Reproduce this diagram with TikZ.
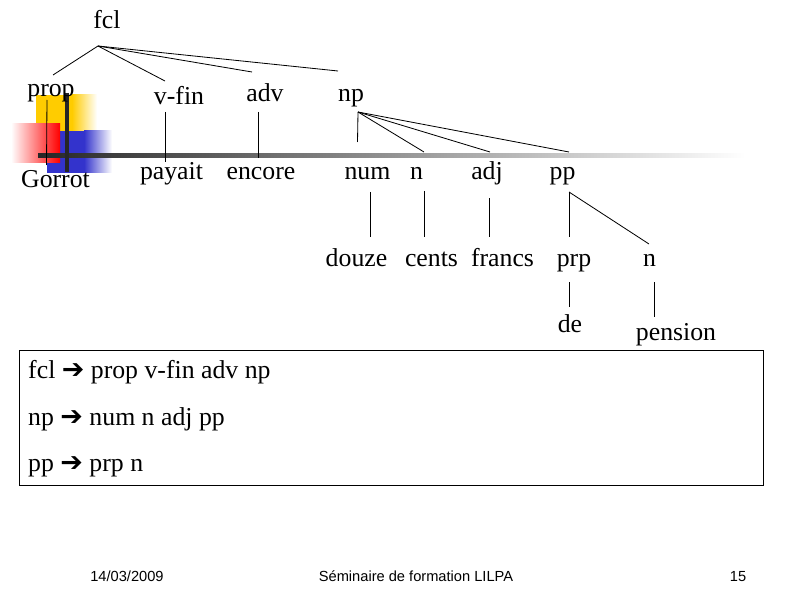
\documentclass[tikz,border=0pt]{standalone}
\usepackage{fontspec}
\setmainfont{Liberation Serif}
\newfontfamily\footfont{Liberation Sans}
\newfontfamily\arrowfont{DejaVu Sans}
\usetikzlibrary{calc, positioning}
\definecolor{slideyellow}{RGB}{255,204,0}
\definecolor{slidered}{RGB}{255,0,0}
\definecolor{slideblue}{RGB}{51,51,204}

\tikzset{
  cat/.style={anchor=base, inner sep=2pt, font=\fontsize{22}{26}\selectfont},
  rule/.style={anchor=base west, inner sep=0pt, font=\fontsize{22}{26}\selectfont},
  branch/.style={line width=0.7pt},
  foot/.style={anchor=base, inner sep=0pt, font=\footfont\fontsize{12.5}{14}\selectfont},
}
\newcommand{\rulearrow}{{\arrowfont\fontsize{23}{24}\selectfont\char"2794}}

\begin{document}
\begin{tikzpicture}[x=0.03cm, y=-0.03cm]
  \useasboundingbox (0,0) rectangle (794,595);

  % slide decoration
  \fill[slideyellow] (36,95) rectangle (72,135);
  \shade[left color=slideyellow, right color=white] (72,95) rectangle (97,135);
  \fill[slideblue] (47,131) rectangle (84,173);
  \shade[left color=slideblue, right color=white] (84,131) rectangle (112,173);
  \shade[left color=white, right color=slidered] (11,124) rectangle (60,163);
  \shade[left color=black!85, right color=white] (38,154) rectangle (745,158);
  \draw[line width=2.6pt, black!85] (67,93) -- (67,172);

  % tree
  \node[cat] (fcl) at (107,29) {fcl};
  \node[cat] (prop) at (51,97) {prop};
  \node[cat] (vfin) at (179,105) {v-fin};
  \node[cat] (adv) at (265,102) {adv};
  \node[cat] (np) at (351,102) {np};
  \node[cat] (Gorrot) at (55.5,187) {Gorrot};
  \node[cat] (payait) at (171.5,180) {payait};
  \node[cat] (encore) at (261,180) {encore};
  \node[cat] (num) at (367.5,180) {num};
  \node[cat] (nA) at (416.5,180) {n};
  \node[cat] (adj) at (487,180) {adj};
  \node[cat] (pp) at (562.5,180) {pp};
  \node[cat] (douze) at (356.5,266) {douze};
  \node[cat] (cents) at (431.5,266) {cents};
  \node[cat] (francs) at (502.5,266) {francs};
  \node[cat] (prp) at (574,266) {prp};
  \node[cat] (nB) at (649.5,266) {n};
  \node[cat] (de) at (570,332) {de};
  \node[cat] (pension) at (676,340) {pension};

  \coordinate (fcl-root) at ($(fcl.base)+(-9,17)$);
  \coordinate (np-root) at ($(np.base)+(7,10)$);
  \coordinate (pp-root) at ($(pp.base)+(6.5,12)$);

  \draw[branch] (fcl-root) -- ($(prop.base)+(2,-22)$);
  \draw[branch] (fcl-root) -- ($(vfin.base)+(-14,-24)$);
  \draw[branch] (fcl-root) -- ($(adv.base)+(-13,-30)$);
  \draw[branch] (fcl-root) -- ($(np.base)+(-13,-31)$);
  \draw[branch] ($(prop.base)+(-4,3)$) -- ($(Gorrot.base)+(-9,-22)$);
  \draw[branch] ($(vfin.base)+(-14,7)$) -- ($(payait.base)+(-6.5,-18)$);
  \draw[branch] ($(adv.base)+(-7,10)$) -- ($(encore.base)+(-3,-22)$);
  \draw[branch] (np-root) -- ($(num.base)+(-10,-38)$);
  \draw[branch] (np-root) -- ($(nA.base)+(7.5,-28)$);
  \draw[branch] (np-root) -- ($(adj.base)+(3,-28)$);
  \draw[branch] (np-root) -- ($(pp.base)+(6.5,-28)$);
  \draw[branch] ($(num.base)+(2.5,12)$) -- ($(douze.base)+(13.5,-29)$);
  \draw[branch] ($(nA.base)+(7.5,11)$) -- ($(cents.base)+(-7.5,-29)$);
  \draw[branch] ($(adj.base)+(2,18)$) -- ($(francs.base)+(-13.5,-29)$);
  \draw[branch] (pp-root) -- ($(prp.base)+(-5,-29)$);
  \draw[branch] (pp-root) -- ($(nB.base)+(-0.5,-22)$);
  \draw[branch] ($(prp.base)+(-5,16)$) -- ($(de.base)+(-1,-25)$);
  \draw[branch] ($(nB.base)+(4.5,16)$) -- ($(pension.base)+(-22,-23)$);

  % rewrite rules
  \node[draw, line width=0.7pt, inner sep=0pt, minimum width=22.32cm, minimum height=4.05cm] (rules) at (391,417.5) {};
  \node[rule] (rule1) at (28,378) {fcl \rulearrow{} prop v-fin adv np};
  \node[rule] (rule2) at (28,425) {np \rulearrow{} num n adj pp};
  \node[rule] (rule3) at (28,471) {pp \rulearrow{} prp n};

  % footer
  \node[foot] (date) at (127,581) {14/03/2009};
  \node[foot] (title) at (416,581) {Séminaire de formation LILPA};
  \node[foot] (page) at (738,581) {15};
\end{tikzpicture}
\end{document}
